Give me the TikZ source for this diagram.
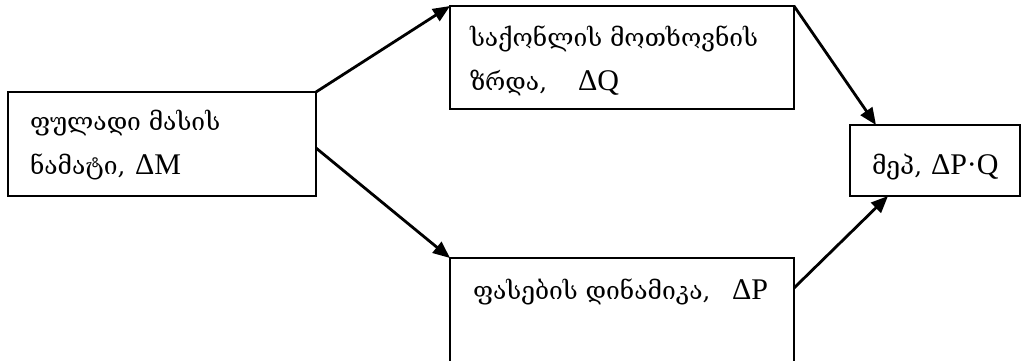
\documentclass[tikz,border=0pt]{standalone}
\usepackage{fontspec}
\setmainfont{Liberation Serif}
\newfontfamily\geo[Scale=0.82]{DejaVu Serif}
\usetikzlibrary{arrows.meta,calc}
\begin{document}
\begin{tikzpicture}[x=1pt,y=-1pt,
  box/.style={draw,line width=1.6pt,inner sep=0pt,outer sep=0pt,anchor=north west},
  lbl/.style={anchor=base west,inner sep=0pt,outer sep=0pt,font=\fontsize{30}{44}\selectfont},
  arr/.style={line width=2.8pt,-{Triangle[length=17pt,width=14pt]}}]
\useasboundingbox (0,0) rectangle (1027,360);
\node[box,minimum width=308pt,minimum height=104pt] (b1) at (8,92) {};
\node[box,minimum width=344pt,minimum height=103pt] (b2) at (450,6) {};
\node[box,minimum width=170pt,minimum height=71pt] (b3) at (850,125) {};
\node[box,minimum width=344pt,minimum height=110pt] (b4) at (450,258) {};
\node[lbl] (t1a) at (30,130) {{\geo ფულადი მასის}};
\node[lbl] (t1b) at (30,174) {\makebox[105pt][l]{\geo ნამატი,}ΔM};
\node[lbl] (t2a) at (470,46) {{\geo საქონლის მოთხოვნის}};
\node[lbl] (t2b) at (470,90) {\makebox[108pt][l]{\geo ზრდა,}ΔQ};
\node[lbl] (t3) at (872,174) {\makebox[59pt][l]{\geo მეპ,}ΔP·Q};
\node[lbl] (t4) at (473,299) {\makebox[259pt][l]{\geo ფასების დინამიკა,}ΔP};
\draw[arr] (b1.north east) -- (b2.north west);
\draw[arr] ($(b1.east)+(0,4)$) -- (b4.north west);
\draw[arr] (b2.north east) -- ($(b3.north west)+(26,0)$);
\draw[arr] ($(b4.north east)+(0,30)$) -- ($(b3.south west)+(38,0)$);
\end{tikzpicture}
\end{document}
